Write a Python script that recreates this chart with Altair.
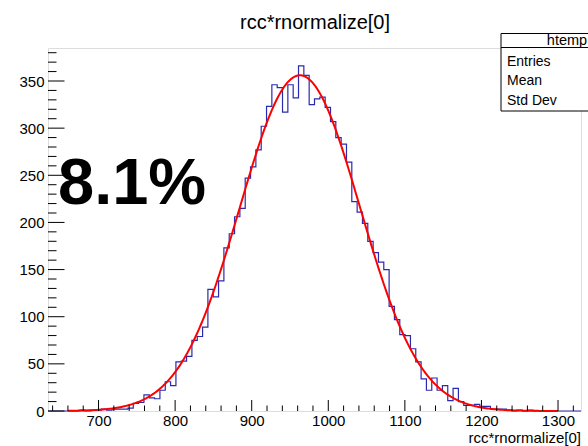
import altair as alt
import pandas as pd
import numpy as np

# ---------------- data ----------------
x_min, x_max, n_bins = 634.0, 1330.0, 100
counts = [
    0, 0, 0, 0, 0, 0, 1, 0, 1, 1,            # 0-9
    2, 1, 2, 2, 2, 3, 8, 9, 17, 14,          # 10-19
    13, 22, 31, 27, 52, 53, 58, 75, 79, 89,  # 20-29
    129, 121, 138, 173, 188, 206, 215, 247, 259, 277,  # 30-39
    302, 323, 346, 343, 317, 346, 332, 366, 356, 325,  # 40-49
    331, 333, 322, 307, 290, 283, 264, 222, 211, 199,  # 50-59
    180, 168, 158, 150, 111, 97, 81, 80, 66, 52,       # 60-69
    34, 22, 35, 22, 27, 11, 24, 10, 6, 6,              # 70-79
    7, 5, 5, 2, 2, 2, 1, 0, 1, 0,                      # 80-89
    1, 0, 0, 0, 0, 0, 0, 0, 0, 0,                      # 90-99
]
# Gaussian fit parameters (red curve)
fit_amp, fit_mean, fit_sigma = 356.0, 963.0, 78.5
fit_lo, fit_hi = 660.0, 1300.0

y_major = [0, 50, 100, 150, 200, 250, 300, 350]
y_minor = [v for v in range(0, 381, 10) if v % 50]
x_major = [700, 800, 900, 1000, 1100, 1200, 1300]
x_minor = [v for v in range(640, 1330, 20) if v % 100]

title_text = "rcc*rnormalize[0]"
xaxis_title = "rcc*rnormalize[0]"
big_text = "8.1%"
stats_name = "htemp"
stats_rows = ["Entries", "Mean", "Std Dev"]

# ---------------- layout ----------------
W, H = 533, 363
PADL, PADT = 48, 48
font = "Liberation Sans"

bw = (x_max - x_min) / n_bins
edges = x_min + bw * np.arange(n_bins + 1)
hist_df = pd.DataFrame({"x": edges, "y": counts + [counts[-1]]})
xs = np.arange(fit_lo, fit_hi + 0.1, 2.0)
fit_df = pd.DataFrame({"x": xs, "y": fit_amp * np.exp(-0.5 * ((xs - fit_mean) / fit_sigma) ** 2)})

xscale = alt.Scale(domain=[x_min, x_max], nice=False, zero=False)
yscale = alt.Scale(domain=[0, 385], nice=False, zero=True)

x_axis = alt.Axis(values=x_major, format="d", ticks=False, domain=False, grid=False, labelFont=font,
                  labelFontSize=15, labelColor="black", labelPadding=2, title=None,
                  labelFlush=False)
y_axis = alt.Axis(values=y_major, format="d", ticks=False, domain=False, grid=False, labelFont=font,
                  labelFontSize=15, labelColor="black", labelPadding=4, title=None)


def X():
    return alt.X("x:Q", scale=xscale, axis=x_axis)


def Y():
    return alt.Y("y:Q", scale=yscale, axis=y_axis)


hist = alt.Chart(hist_df).mark_line(interpolate="step-after", color="#2a2ab0", strokeWidth=1.2).encode(
    x=X(), y=Y())
fit = alt.Chart(fit_df).mark_line(color="#ff0000", strokeWidth=2).encode(x=X(), y=Y())

ymaj = alt.Chart(pd.DataFrame({"y": y_major})).mark_rule(color="black", strokeWidth=1).encode(
    y=Y(), x=alt.value(0), x2=alt.value(16.5))
ymin = alt.Chart(pd.DataFrame({"y": y_minor})).mark_rule(color="black", strokeWidth=1).encode(
    y=Y(), x=alt.value(0), x2=alt.value(8.5))
xmaj = alt.Chart(pd.DataFrame({"x": x_major})).mark_rule(color="black", strokeWidth=1).encode(
    x=X(), y=alt.value(H), y2=alt.value(H - 11))
xmin_r = alt.Chart(pd.DataFrame({"x": x_minor})).mark_rule(color="black", strokeWidth=1).encode(
    x=X(), y=alt.value(H), y2=alt.value(H - 5.5))

one = pd.DataFrame({"a": [0]})
title = alt.Chart(one).mark_text(text=title_text, font=font, fontSize=20, align="center",
                                 baseline="alphabetic", color="black").encode(
    x=alt.value(315 - PADL), y=alt.value(29 - PADT))
xtitle = alt.Chart(one).mark_text(text=xaxis_title, font=font, fontSize=15, align="right",
                                  baseline="alphabetic", color="black").encode(
    x=alt.value(W), y=alt.value(443 - PADT))
big = alt.Chart(one).mark_text(text=big_text, font=font, fontSize=65, fontWeight="bold",
                               align="left", baseline="alphabetic", color="black").encode(
    x=alt.value(58 - PADL), y=alt.value(204 - PADT))

box = alt.Chart(one).mark_rect(fill="white", stroke="black", strokeWidth=1).encode(
    x=alt.value(501 - PADL), x2=alt.value(640), y=alt.value(33.5 - PADT), y2=alt.value(111 - PADT))
sep = alt.Chart(one).mark_rule(color="black", strokeWidth=1).encode(
    x=alt.value(501 - PADL), x2=alt.value(640), y=alt.value(47.5 - PADT))
head = alt.Chart(one).mark_text(text=stats_name, font=font, fontSize=14.5, align="center",
                                baseline="alphabetic", color="black").encode(
    x=alt.value(567 - PADL), y=alt.value(45 - PADT))
row_layers = []
for i, r in enumerate(stats_rows):
    row_layers.append(alt.Chart(one).mark_text(text=r, font=font, fontSize=14, align="left",
                                               baseline="alphabetic", color="black").encode(
        x=alt.value(507 - PADL), y=alt.value(65.5 + 19.5 * i - PADT)))

chart = alt.layer(hist, fit, ymaj, ymin, xmaj, xmin_r, big, box, sep, head, *row_layers, title, xtitle).properties(
    width=W, height=H,
    padding={"left": PADL, "top": PADT, "right": 588 - PADL - W, "bottom": 446 - PADT - H},
    autosize=alt.AutoSizeParams(type="none"),
).configure_view(stroke="black", strokeWidth=1).configure(background="white")

chart.save("out.html", embed_options={"renderer": "svg", "actions": False})
